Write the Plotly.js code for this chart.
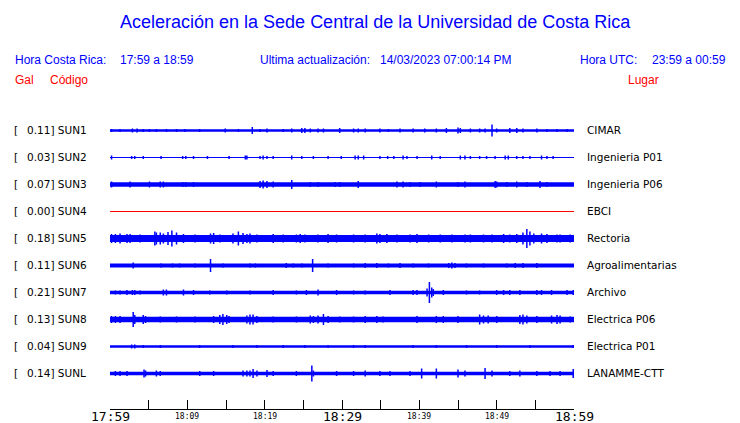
<!DOCTYPE html>
<html><head><meta charset="utf-8">
<script src="https://cdn.plot.ly/plotly-3.0.1.min.js"></script>
<style>html,body{margin:0;padding:0;background:#fff}#chart{width:740px;height:423px}</style>
</head><body><div id="chart"></div>
<script>
// ---- data ----
const codes  = ["SUN1","SUN2","SUN3","SUN4","SUN5","SUN6","SUN7","SUN8","SUN9","SUNL"];
const gal    = [0.11,0.03,0.07,0.00,0.18,0.11,0.21,0.13,0.04,0.14];
const places = ["CIMAR","Ingenieria P01","Ingenieria P06","EBCI","Rectoria","Agroalimentarias","Archivo","Electrica P06","Electrica P01","LANAMME-CTT"];
// background noise half-amplitude of each trace (display units)
const baseAmp = [1.3,0.5,2.2,0,3.5,2.0,1.8,2.8,1.2,1.8];

// spikes: minutes after 17:59 and half-amplitude
const t_SUN1=[0.2,1.3,2.9,3.5,4.3,5.1,6.0,7.3,8.6,9.7,11.6,14.9,16.6,18.4,19.4,20.3,22.4,23.5,24.8,25.2,25.9,26.9,27.6,29.7,31.5,32.1,33.0,34.9,36.0,37.5,39.2,40.7,42.2,43.5,45.0,45.3,46.6,47.8,48.5,49.4,50.0,51.7,52.6,53.4,55.2,56.5,57.8,59.1];
const a_SUN1=[1.5,1.5,2,2,1.5,1.5,1.5,1.5,1.5,1.5,1.5,2,1.5,3.5,1.5,2,1.5,2,2.5,2.5,2,2,2,2.5,2,2,2,2,1.5,2,2,2,2,2.5,3,2.5,2,2,2,6,2,2.5,2.5,2,2,1.5,1.5,1.5];
const t_SUN2=[0.2,2.8,3.2,4.3,6.6,9.4,9.8,10.8,12.6,15.4,17.5,17.7,19.4,19.8,20.3,21.1,23.5,24.8,26.3,28.2,29.9,31.7,32.1,32.8,34.9,35.9,36.7,37.9,38.4,39.7,41.6,42.7,45.3,45.9,46.6,47.8,48.7,49.8,51.1,51.5,52.6,53.4,54.3,55.8,56.5,57.3];
const a_SUN2=[2,1.5,1.5,1.5,1.5,1.5,1.5,1.5,1.5,1.5,2,2,1.5,2,1.5,1.5,2,1.5,1.5,1.5,1.5,2,2,2,1.5,1.5,1.5,2,1.5,1.5,2,1.5,2,2,1.5,1.5,1.5,1.5,2,2,1.5,1.5,1.5,2,1.5,1.5];
const t_SUN3=[0.2,2.6,5.1,6.5,6.9,9.4,9.8,10.8,19.4,19.8,20.3,21.1,23.5,25.9,26.9,29.1,29.7,32.1,37.1,37.9,38.8,40.1,42.2,45.0,45.9,49.8,50.0,51.3,52.6,53.9,55.6,56.5];
const a_SUN3=[3,3,3,3,3,2.5,2.5,2.5,3.5,4,3.5,3,4.5,2.5,2.5,2.5,2.5,3.5,3,3,2.5,2.5,3,2.5,3,3.5,3,2.5,3,2.5,3.5,2.5];
const t_SUN4=[];
const a_SUN4=[];
const t_SUN5=[0.2,0.7,1.3,2.2,2.6,3.9,5.8,6.0,6.5,6.9,7.5,8.0,8.6,9.5,11.0,13.0,13.4,14.2,15.9,16.6,17.2,17.7,18.1,19.0,21.1,22.4,24.1,24.6,25.2,26.9,28.2,29.3,31.5,33.0,34.5,34.9,35.8,37.1,38.8,39.7,41.2,42.7,44.2,45.9,46.6,48.3,49.4,50.9,51.7,52.6,53.4,53.9,54.3,54.8,55.8,56.5,57.8,58.2,59.5];
const a_SUN5=[4.5,4.5,5,4.5,4.5,4,7,6,6,5,6.5,8,6,4.5,4,5,5.5,4,5,7,5.5,4.5,5,4,4.5,4,4,4.5,4,4,4.5,4,4,4,5,4.5,4.5,4,4,4.5,4,4,4,4,4,4,4,4.5,4,4.5,6,9.5,7,5,5,4.5,4,4,4];
const t_SUN6=[3.0,6.6,8.1,9.0,11.0,13.0,14.6,18.1,18.8,22.8,23.7,24.8,26.2,28.2,31.5,33.0,34.5,36.0,37.5,39.2,41.2,43.8,44.2,44.6,46.1,48.3,51.3,52.4,53.4,55.2];
const a_SUN6=[3,2,2,2,2,6.5,2,2,2,2.5,2,2,6.5,2,2,2.5,2.5,2,2.5,2,2,2.5,3,2.5,2,2,2,2.5,2.5,2.5];
const t_SUN7=[0.7,1.3,2.2,2.9,3.2,3.9,6.9,7.3,9.5,10.8,12.9,15.1,18.1,21.1,24.1,25.4,26.9,29.3,31.5,33.0,36.2,39.2,39.7,41.0,41.3,41.6,41.8,43.1,46.1,47.8,50.0,50.9,51.7,53.0,55.2,55.8,57.1,59.1,59.9];
const a_SUN7=[2,2,2.5,2.5,2.5,2,3,3,3,2.5,2,2,2,2.5,2,2.5,3,2.5,2,2,2.5,2.5,2.5,4,10.5,5,3.5,2.5,2,2,2.5,2.5,2.5,2.5,2.5,2.5,2.5,2.5,2.5];
const t_SUN8=[0.2,0.7,1.3,3.0,3.2,4.3,4.6,6.5,8.6,11.0,13.4,14.2,14.6,15.1,15.4,17.7,18.1,18.5,19.0,21.1,24.1,25.9,26.3,26.9,27.6,28.2,29.7,31.5,33.0,34.5,35.3,39.7,42.2,43.1,45.0,47.8,48.3,48.9,50.0,53.0,53.4,53.9,55.2,57.1,57.8,58.2,59.5];
const a_SUN8=[3.5,3.5,3.5,7.5,4.5,4.5,3.5,3,3,3,3.5,4.5,5.5,4.5,3.5,4,5,5,3.5,3,3,4,3.5,4,5.5,3.5,3,3,3.5,3.5,3,3.5,3.5,3.5,3.5,5,4,4,3.5,4.5,5,4,3.5,4,4.5,4,3];
const t_SUN9=[2.8,3.2,4.3,6.5,11.6,15.9,19.0,22.4,25.2,28.2,31.5,33.0,39.2,42.2,46.1,50.0,54.3,59.9];
const a_SUN9=[2,2,1.5,1.5,1.5,1.5,1.5,1.5,1.5,1.5,1.5,1.5,1.5,1.5,1.5,1.5,1.5,1.5];
const t_SUNL=[0.7,1.3,2.2,4.4,4.6,6.0,6.5,11.6,13.4,17.2,17.7,18.1,18.5,19.0,20.3,21.1,24.1,26.1,26.3,29.3,31.5,33.0,34.9,36.2,38.8,40.3,42.2,45.0,45.9,48.5,49.4,51.7,53.0,55.2,56.9,58.2,59.9];
const a_SUNL=[2.5,2.5,2.5,4,3,3,2.5,2.5,2.5,3,3,3,4.5,3,3.5,2.5,2.5,8,3,2.5,2.5,3,2.5,2.5,2.5,5,5,4,3,5.5,3,2.5,3,2.5,2.5,2.5,4.5];

const tickMinutes = [0,5,10,15,20,25,30,35,40,45,50,55,60];
const labelMinutes = [0,10,20,30,40,50,60];
const labelText    = ["17:59","18:09","18:19","18:29","18:39","18:49","18:59"];
const labelBig     = [true,false,false,true,false,false,true];

const spikeT = [t_SUN1,t_SUN2,t_SUN3,t_SUN4,t_SUN5,t_SUN6,t_SUN7,t_SUN8,t_SUN9,t_SUNL];
const spikeA = [a_SUN1,a_SUN2,a_SUN3,a_SUN4,a_SUN5,a_SUN6,a_SUN7,a_SUN8,a_SUN9,a_SUNL];

// ---- layout geometry ----
const W=740,H=423, L=110, R=574, T=115, B=409;
const rowTop=130, rowGap=27;
const BLUE="#0000ff", RED="#ff0000";
const px2x = p => (p-L)/(R-L);
const py2y = p => (B-p)/(B-T);
const rowY = i => (B-(rowTop+rowGap*i)-0.5); // y-axis units == pixels

const traces=[];
codes.forEach((c,i)=>{
  const cy=rowY(i);
  if(baseAmp[i]===0){
    traces.push({x:[0,60],y:[cy,cy],mode:'lines',line:{color:RED,width:1},hoverinfo:'skip'});
  } else {
    traces.push({x:[0,60],y:[cy,cy],mode:'lines',line:{color:BLUE,width:2*baseAmp[i]},hoverinfo:'skip'});
  }
  const xs=[],ys=[];
  spikeT[i].forEach((t,k)=>{xs.push(t,t,null);ys.push(cy-spikeA[i][k],cy+spikeA[i][k],null);});
  if(xs.length) traces.push({x:xs,y:ys,mode:'lines',line:{color:BLUE,width:1.5},hoverinfo:'skip',connectgaps:false});
});

const ann=[];
const txt=(text,px,py,opts)=>ann.push(Object.assign({text,xref:'paper',yref:'paper',x:px2x(px-2),y:py2y(py),xanchor:'left',yanchor:'middle',showarrow:false,font:{family:'Liberation Sans, Arial',size:12,color:BLUE}},opts||{}));
txt("Aceleración en la Sede Central de la Universidad de Costa Rica",377,22,{xanchor:'center',font:{family:'Liberation Sans, Arial',size:18,color:BLUE}});
txt("Hora Costa Rica:",15,60);
txt("17:59 a 18:59",120,60);
txt("Ultima actualización:",260,60);
txt("14/03/2023 07:00:14 PM",380,60);
txt("Hora UTC:",580,60);
txt("23:59 a 00:59",652,60);
txt("Gal",15,80,{font:{family:'Liberation Sans, Arial',size:12,color:RED}});
txt("Código",50,80,{font:{family:'Liberation Sans, Arial',size:12,color:RED}});
txt("Lugar",628,80,{font:{family:'Liberation Sans, Arial',size:12,color:RED}});
const sf={family:'DejaVu Sans',size:10.5,color:'#000'};
codes.forEach((c,i)=>{
  const py=rowTop+rowGap*i;
  txt("[",14,py,{font:sf});
  txt(gal[i].toFixed(2)+"] "+c,27,py,{font:sf});
  txt(places[i],587,py,{font:sf});
});
labelMinutes.forEach((m,k)=>{
  ann.push({text:labelText[k],xref:'x',yref:'paper',x:m,y:0,xanchor:'center',yanchor:'middle',yshift:-7,showarrow:false,
    font:{family:'DejaVu Sans Mono',size:labelBig[k]?13:8,color:'#000'}});
});

Plotly.newPlot('chart',traces,{
  width:W,height:H,margin:{l:L,r:W-R,t:T,b:H-B,pad:0},
  paper_bgcolor:'#fff',plot_bgcolor:'#fff',showlegend:false,
  xaxis:{range:[0,60],showgrid:false,zeroline:false,showline:true,linecolor:'#000',linewidth:1,
    ticks:'inside',ticklen:9,tickwidth:1,tickcolor:'#000',tickvals:tickMinutes,showticklabels:false,fixedrange:true},
  yaxis:{range:[0,B-T],visible:false,fixedrange:true},
  annotations:ann
},{staticPlot:true});
</script></body></html>
